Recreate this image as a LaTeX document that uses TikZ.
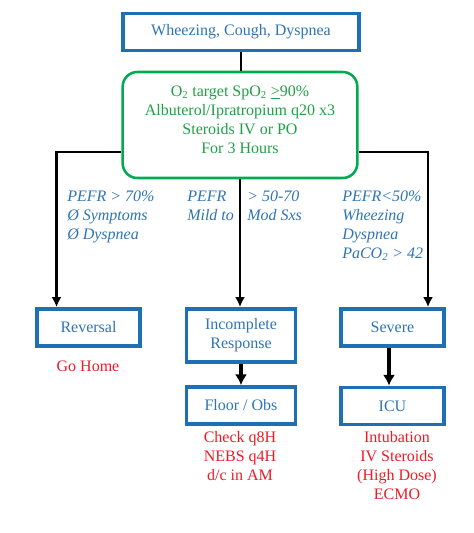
\documentclass[tikz,border=0pt]{standalone}
\usepackage{fontspec}
\setmainfont{Liberation Serif}
\usetikzlibrary{arrows.meta,positioning}
\definecolor{boxblue}{RGB}{31,111,181}
\definecolor{txtblue}{RGB}{46,116,181}
\definecolor{caregreen}{RGB}{0,170,80}
\definecolor{txtgreen}{RGB}{30,160,70}
\definecolor{noteRed}{RGB}{236,28,36}
\newcommand{\txtsize}{\fontsize{12}{14.25}\selectfont}
\tikzset{block/.style={rectangle, draw=boxblue, line width=2.6pt, text=txtblue, align=center, font=\txtsize, minimum height=28pt}}
\tikzset{care/.style={rectangle, rounded corners=11pt, draw=caregreen, line width=1.9pt, text=txtgreen, align=center, font=\txtsize}}
\tikzset{conn/.style={draw, line width=1.7pt}}
\tikzset{line/.style={draw, line width=1.7pt, -{Latex[length=7.5pt,width=7.5pt]}}}
\tikzset{bigline/.style={draw, line width=3pt, -{Latex[length=8pt,width=9pt]}}}
\tikzset{crit/.style={text=txtblue, font=\txtsize\itshape, align=left, anchor=north west, inner sep=0pt}}
\tikzset{note/.style={text=noteRed, font=\txtsize, align=center, inner sep=0pt}}
\begin{document}
\begin{tikzpicture}[x=0.75pt, y=-0.75pt]
\useasboundingbox (0,0) rectangle (474,533);
        % first assessment
        \node[block, minimum width=177pt] (sym) at (241,32) {Wheezing, Cough, Dyspnea};
        \node[care, minimum width=176pt, minimum height=79.5pt, text depth=8pt] (init) at (240,125)
            {O\textsubscript{2} target SpO\textsubscript{2} \underline{>}90\%\\Albuterol/Ipratropium q20 x3\\Steroids IV or PO\\For 3 Hours};
        % outcomes
        \node[block, minimum width=77pt] (rev) at (88.5,327.5) {Reversal};
        \node[block, minimum width=82pt, minimum height=40pt] (inc) at (241,335.5) {Incomplete\\Response};
        \node[block, minimum width=77pt] (sev) at (392.5,327.5) {Severe};
        \node[block, minimum width=82pt] (flr) at (241,405.5) {Floor / Obs};
        \node[block, minimum width=77pt] (icu) at (392.5,406) {ICU};
        % branch criteria
        \node[crit] (good) at (67,190.5) {PEFR > 70\%\\Ø Symptoms\\Ø Dyspnea};
        \node[crit] (midA) at (187,190.5) {PEFR\\Mild to};
        \node[crit] (midB) at (247,190.5) {> 50-70\\Mod Sxs};
        \node[crit] (bad) at (342,190.5) {PEFR<50\%\\Wheezing\\Dyspnea\\PaCO\textsubscript{2} > 42};
        % plans
        \node[note] (home) at (88,366) {Go Home};
        \node[note] (obs) at (240,456) {Check q8H\\NEBS q4H\\d/c in AM};
        \node[note] (crit) at (397,466) {Intubation\\IV Steroids\\(High Dose)\\ECMO};
        \coordinate (lsplit) at (56.5,152);
        \coordinate (rsplit) at (428,152);
        \path[conn] (sym.south) -- (sym.south |- init.north);
        \path[line] (init.west |- lsplit) -- (lsplit) -- (lsplit |- rev.north);
        \path[line] (init.south) -- (init.south |- inc.north);
        \path[line] (init.east |- rsplit) -- (rsplit) -- (rsplit |- sev.north);
        \path[bigline] (inc) -- (flr);
        \path[bigline] (sev.south -| 389,0) -- (icu.north -| 389,0);
\end{tikzpicture}
\end{document}
